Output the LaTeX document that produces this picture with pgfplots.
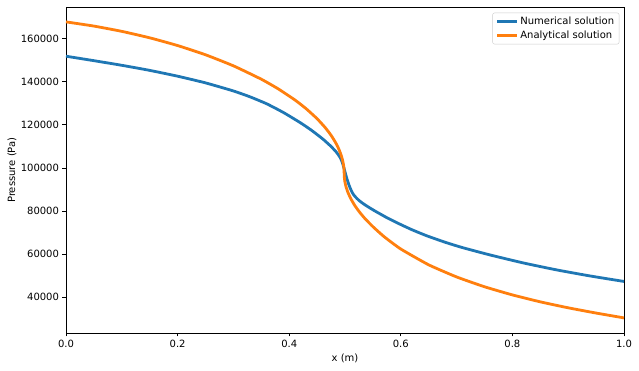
\documentclass[border=0pt]{standalone}
\usepackage{pgfplots}
\pgfplotsset{compat=1.18}
\usepackage{fontspec}
\setmainfont{DejaVu Sans}
\definecolor{mplblue}{HTML}{1F77B4}
\definecolor{mplorange}{HTML}{FF7F0E}
\begin{document}
\fontsize{10}{12}\selectfont
\begin{tikzpicture}
\useasboundingbox (-66pt,-38pt) rectangle (573pt,333pt);
\begin{axis}[
  scale only axis,
  width=558pt, height=325.7pt,
  xmin=0, xmax=1, ymin=23440, ymax=174570,
  xtick={0,0.2,0.4,0.6,0.8,1.0},
  ytick={40000,60000,80000,100000,120000,140000,160000},
  scaled y ticks=false,
  tick align=outside,
  major tick length=3.5pt,
  tick style={black, line width=0.8pt},
  axis line style={line width=0.8pt},
  tick pos=left,
  /pgf/number format/assume math mode=true,
  xticklabel style={/pgf/number format/.cd, fixed, fixed zerofill, precision=1},
  yticklabel style={/pgf/number format/.cd, fixed, set thousands separator={}},
  ticklabel style={font=\fontsize{10}{12}\selectfont},
  xlabel={x (m)}, ylabel={Pressure (Pa)},
  every axis x label/.style={at={(axis description cs:0.5,-0.077)},anchor=center},
  every axis y label/.style={at={(axis description cs:-0.097,0.5)},rotate=90,anchor=center},
  legend style={at={(0.9916,0.9834)}, anchor=north east, draw=black!20, rounded corners=2pt,
    font=\fontsize{10}{12}\selectfont, inner xsep=3pt, inner ysep=2pt, row sep=1pt},
  legend cell align=left,
  legend image code/.code={\draw[#1] (0cm,0cm) -- (0.7cm,0cm);},
]
\addplot[mplblue, line width=2.8pt, smooth, tension=0.3, line join=round] coordinates {
(0.000,151870) (0.050,149800) (0.100,147650) (0.150,145300) (0.200,142600)
(0.250,139500) (0.300,135750) (0.330,133000) (0.360,129750) (0.390,125700)
(0.420,121000) (0.440,117500) (0.460,113500) (0.475,110000) (0.485,107200)
(0.491,105000) (0.495,102700) (0.498,100100) (0.500,98200) (0.503,95400)
(0.506,92950) (0.509,90850) (0.512,89150) (0.515,87750) (0.519,86500)
(0.524,85200) (0.530,83950) (0.537,82700) (0.545,81400) (0.555,79850)
(0.565,78400) (0.575,76950) (0.586,75500) (0.600,73750) (0.620,71350)
(0.647,68500) (0.680,65500) (0.710,63100) (0.760,59650) (0.820,55920)
(0.880,52680) (0.940,49870) (1.000,47360)
};
\addlegendentry{Numerical solution}
\addplot[mplorange, line width=2.8pt, smooth, tension=0.3, line join=round] coordinates {
(0.000,167800) (0.050,165850) (0.100,163400) (0.150,160410) (0.200,156820)
(0.250,152540) (0.300,147410) (0.350,141200) (0.380,136770) (0.410,131610)
(0.430,127590) (0.450,122870) (0.465,118600) (0.475,115180) (0.483,111860)
(0.489,108740) (0.493,106050) (0.4955,103810) (0.4972,101650) (0.4980,100070)
(0.4985,97500) (0.4990,95110) (0.5000,93360) (0.5020,91160) (0.5050,88840)
(0.5100,85960) (0.5170,82820) (0.5250,79880) (0.5350,76760) (0.5500,72780)
(0.5700,68150) (0.6000,62400) (0.6500,55069) (0.7000,49451) (0.7500,44897)
(0.8000,41113) (0.8500,37895) (0.9000,35125) (0.9500,32694) (1.0000,30450)
};
\addlegendentry{Analytical solution}
\end{axis}
\end{tikzpicture}
\end{document}
